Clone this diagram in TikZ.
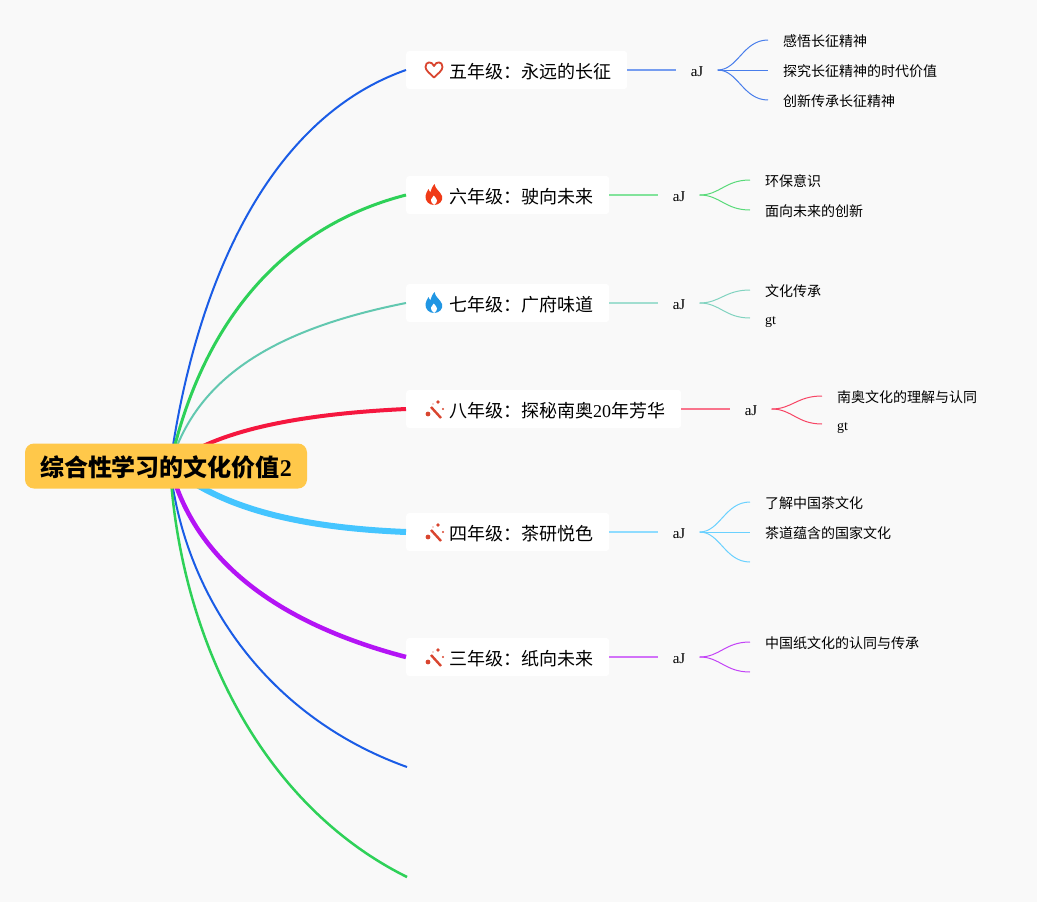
\documentclass[tikz,border=0pt]{standalone}
\usepackage{fontspec}
\usepackage{tikz}
\setmainfont{Liberation Serif}
\newfontfamily\cjk{Noto Sans CJK SC}
\definecolor{pagebg}{HTML}{F9F9F9}
\definecolor{rootcol}{HTML}{FFC84A}
\definecolor{bluecol}{HTML}{1A5CE6}
\definecolor{greencol}{HTML}{2ED158}
\definecolor{tealcol}{HTML}{62C8B0}
\definecolor{redcol}{HTML}{F5173F}
\definecolor{cyancol}{HTML}{45C5FF}
\definecolor{purplecol}{HTML}{B414F5}
\definecolor{iconred}{HTML}{D9452F}
\definecolor{flamered}{HTML}{F03A17}
\definecolor{flameblue}{HTML}{2196E3}
\tikzset{x=1pt,y=-1pt,
  gradebox/.style={anchor=west,fill=white,rounded corners=3pt,minimum height=38pt,inner ysep=0pt,inner xsep=16pt,text height=19pt,text depth=2.3pt,font=\fontsize{18}{20}\selectfont},
  rootbox/.style={fill=rootcol,rounded corners=9pt,minimum height=45pt,inner ysep=0pt,inner xsep=15pt,text height=24pt,text depth=3pt,font=\fontsize{24}{26}\selectfont\bfseries},
  midtext/.style={font=\fontsize{15}{16}\selectfont,inner sep=0pt,minimum width=41pt,text height=13pt,text depth=1pt},
  leaftext/.style={anchor=west,font=\fontsize{14}{16}\selectfont,inner sep=0pt,inner xsep=15pt,text height=14.5pt,text depth=1.9pt},
  midlink/.style={line width=1.3pt,#1!60},
  leaflink/.style={line width=1pt,#1!80},
  heartico/.pic={\draw[iconred,line width=1.8pt,line join=round] (0,7.5) .. controls (-4,3.5) and (-8.5,0.5) .. (-8.5,-3) .. controls (-8.5,-9) and (-2,-9) .. (0,-4) .. controls (2,-9) and (8.5,-9) .. (8.5,-3) .. controls (8.5,0.5) and (4,3.5) .. (0,7.5) -- cycle;},
  flameico/.pic={\fill[#1] (0.5,-11) .. controls (1,-6) and (6,-4) .. (8,1) .. controls (9.5,6) and (5,10) .. (0,10) .. controls (-5,10) and (-9,6) .. (-8.5,1) .. controls (-8.3,-2) and (-6.5,-3.5) .. (-5.5,-6) .. controls (-5,-4) and (-4,-3) .. (-3.5,-3) .. controls (-3,-5) and (-2,-8) .. (0.5,-11) -- cycle;
    \fill[white] (0,10) .. controls (-2.5,8) and (-3.5,6) .. (-3,4.5) .. controls (-2.5,3) and (-1,2) .. (-0.3,0.5) .. controls (1,2.5) and (3,3.5) .. (3,5.5) .. controls (3,7.5) and (2,8.5) .. (0,10) -- cycle;},
  wandico/.pic={\draw[iconred,line width=2.4pt] (-3,-2) -- (7,9);
    \fill[iconred] (-6,5) circle (2.4pt) (4,-7) circle (1.9pt) (9,0) circle (1.1pt) (-1,-5) circle (0.7pt);}
}
\begin{document}
\begin{tikzpicture}

\fill[pagebg] (0,0) rectangle (1037,902);
\useasboundingbox (0,0) rectangle (1037,902);

\coordinate (hub) at (170,466);
\coordinate (free1) at (407,767);
\coordinate (free2) at (407,877);

% grades
\node (g5) at (406,70) [gradebox,minimum width=221pt] {\hspace{27pt}{\cjk 五年级：永远的长征}};
\node (g6) at (406,195) [gradebox,minimum width=203pt] {\hspace{27pt}{\cjk 六年级：驶向未来}};
\node (g7) at (406,303) [gradebox,minimum width=203pt] {\hspace{27pt}{\cjk 七年级：广府味道}};
\node (g8) at (406,409) [gradebox,minimum width=275pt] {\hspace{27pt}{\cjk 八年级：探秘南奥}20{\cjk 年芳华}};
\node (g4) at (406,532) [gradebox,minimum width=203pt] {\hspace{27pt}{\cjk 四年级：茶研悦色}};
\node (g3) at (406,657) [gradebox,minimum width=203pt] {\hspace{27pt}{\cjk 三年级：纸向未来}};

\pic at (434,70) {heartico};
\pic at (434,195) {flameico=flamered};
\pic at (434,303) {flameico=flameblue};
\pic at (434,409) {wandico};
\pic at (434,532) {wandico};
\pic at (434,657) {wandico};

% branches from the root
\draw[bluecol,line width=2pt] (hub) .. controls (192,305) and (258,122) .. (g5.west);
\draw[greencol,line width=3pt] (hub) .. controls (195,350) and (262,232) .. (g6.west);
\draw[tealcol,line width=2pt] (hub) .. controls (195,380) and (270,330) .. (g7.west);
\draw[redcol,line width=4pt] (hub) .. controls (215,430) and (300,414) .. (g8.west);
\draw[cyancol,line width=6pt] (hub) .. controls (225,512) and (310,528) .. (g4.west);
\draw[purplecol,line width=4.5pt] (hub) .. controls (192,552) and (265,620) .. (g3.west);
\draw[bluecol,line width=2pt] (hub) .. controls (183,590) and (262,715) .. (free1);
\draw[greencol,line width=2.5pt] (hub) .. controls (180,640) and (262,805) .. (free2);

\node (root) at (166,466) [rootbox] {{\cjk 综合性学习的文化价值}2};

% five
\node (m5) at (697,70) [midtext] {aJ};
\node (c51) at (768,40) [leaftext] {\cjk 感悟长征精神};
\node (c52) at (768,70) [leaftext] {\cjk 探究长征精神的时代价值};
\node (c53) at (768,100) [leaftext] {\cjk 创新传承长征精神};
\draw[midlink=bluecol] (g5.east) -- (m5.west);
\draw[leaflink=bluecol] (m5.east) .. controls (738,70) and (743,40) .. (c51.west);
\draw[leaflink=bluecol] (m5.east) -- (c52.west);
\draw[leaflink=bluecol] (m5.east) .. controls (738,70) and (743,100) .. (c53.west);

% six
\node (m6) at (679,195) [midtext] {aJ};
\node (c61) at (750,180) [leaftext] {\cjk 环保意识};
\node (c62) at (750,210) [leaftext] {\cjk 面向未来的创新};
\draw[midlink=greencol] (g6.east) -- (m6.west);
\draw[leaflink=greencol] (m6.east) .. controls (720,195) and (725,180) .. (c61.west);
\draw[leaflink=greencol] (m6.east) .. controls (720,195) and (725,210) .. (c62.west);

% seven
\node (m7) at (679,303) [midtext] {aJ};
\node (c71) at (750,290) [leaftext] {\cjk 文化传承};
\node (c72) at (750,318) [leaftext] {gt};
\draw[midlink=tealcol] (g7.east) -- (m7.west);
\draw[leaflink=tealcol] (m7.east) .. controls (720,303) and (725,290) .. (c71.west);
\draw[leaflink=tealcol] (m7.east) .. controls (720,303) and (725,318) .. (c72.west);

% eight
\node (m8) at (751,409) [midtext] {aJ};
\node (c81) at (822,396) [leaftext] {\cjk 南奥文化的理解与认同};
\node (c82) at (822,424) [leaftext] {gt};
\draw[midlink=redcol] (g8.east) -- (m8.west);
\draw[leaflink=redcol] (m8.east) .. controls (792,409) and (797,396) .. (c81.west);
\draw[leaflink=redcol] (m8.east) .. controls (792,409) and (797,424) .. (c82.west);

% four
\node (m4) at (679,532) [midtext] {aJ};
\node (c41) at (750,502) [leaftext] {\cjk 了解中国茶文化};
\node (c42) at (750,532) [leaftext] {\cjk 茶道蕴含的国家文化};
\coordinate (c43) at (750,562);
\draw[midlink=cyancol] (g4.east) -- (m4.west);
\draw[leaflink=cyancol] (m4.east) .. controls (720,532) and (725,502) .. (c41.west);
\draw[leaflink=cyancol] (m4.east) -- (c42.west);
\draw[leaflink=cyancol] (m4.east) .. controls (720,532) and (725,562) .. (c43);

% three
\node (m3) at (679,657) [midtext] {aJ};
\node (c31) at (750,642) [leaftext] {\cjk 中国纸文化的认同与传承};
\coordinate (c32) at (750,672);
\draw[midlink=purplecol] (g3.east) -- (m3.west);
\draw[leaflink=purplecol] (m3.east) .. controls (720,657) and (725,642) .. (c31.west);
\draw[leaflink=purplecol] (m3.east) .. controls (720,657) and (725,672) .. (c32);

\end{tikzpicture}
\end{document}
